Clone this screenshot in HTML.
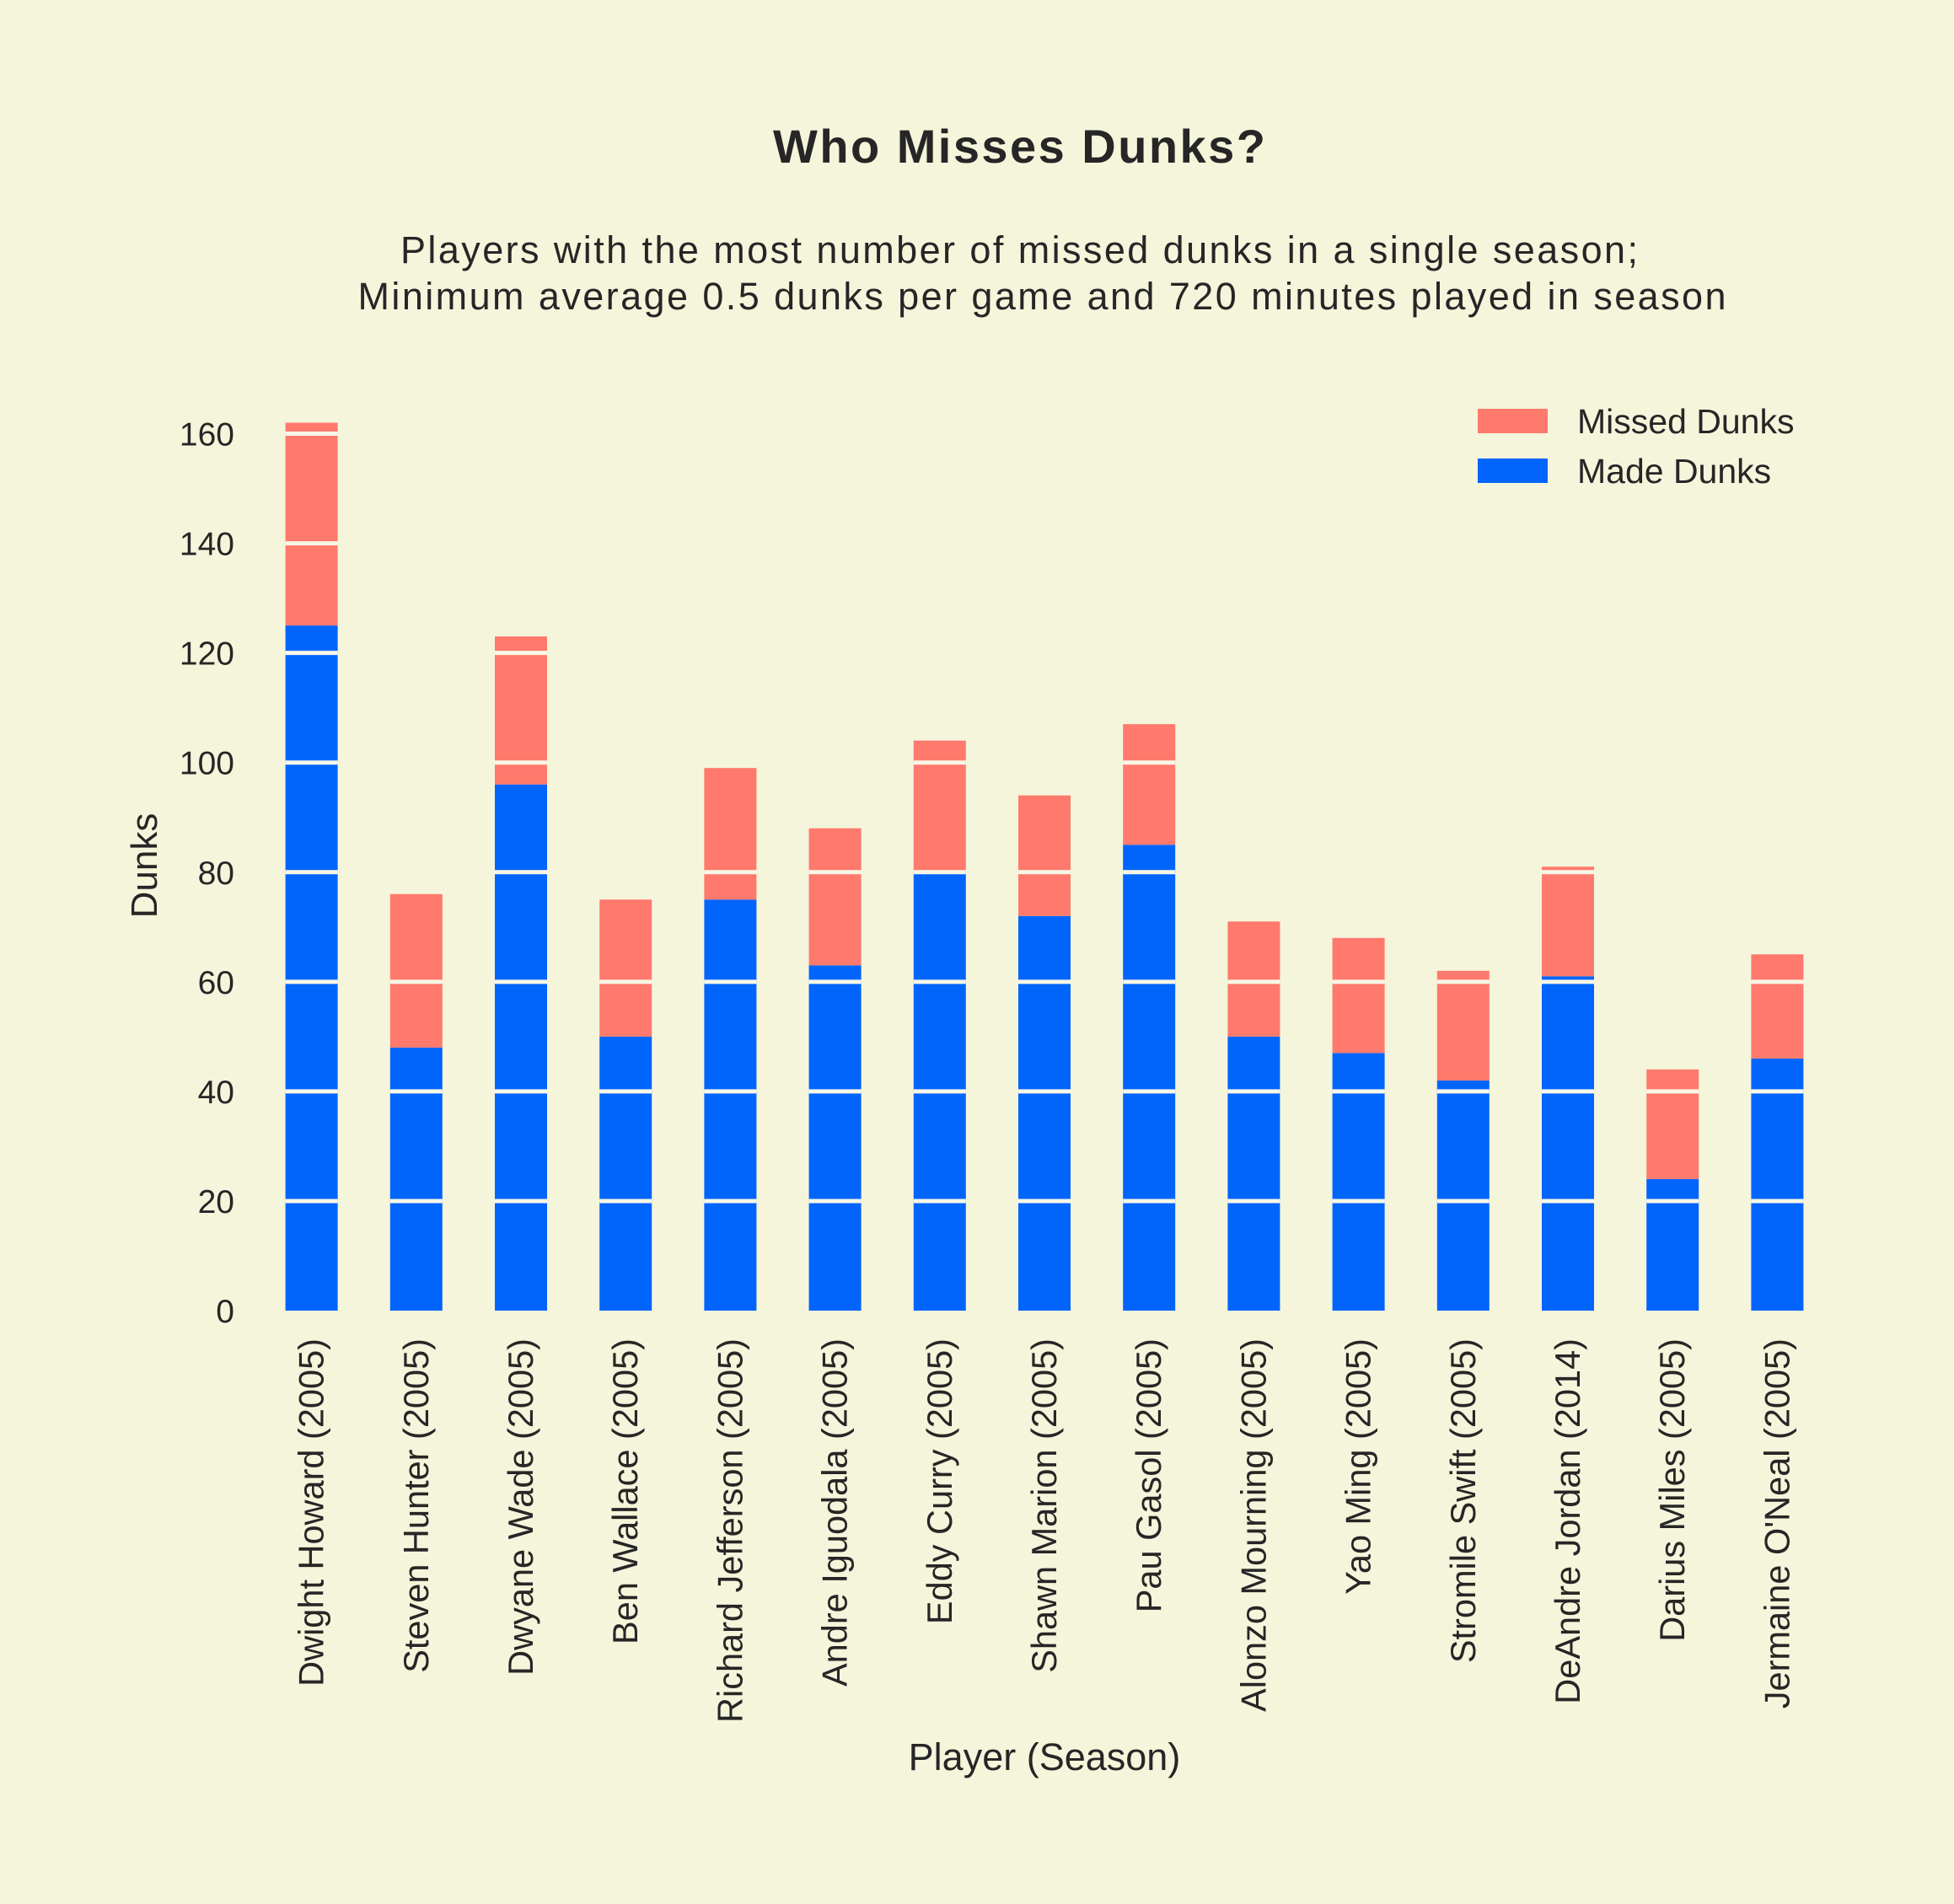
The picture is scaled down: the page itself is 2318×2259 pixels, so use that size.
<!DOCTYPE html>
<html><head><meta charset="utf-8"><style>
html,body{margin:0;padding:0;background:#f5f5dc;}
svg{display:block;font-family:"Liberation Sans",Arial,sans-serif;}
</style></head><body>
<svg id="chart" width="2318" height="2259" viewBox="0 0 2318 2259" xmlns="http://www.w3.org/2000/svg">
<rect width="2318" height="2259" fill="#f5f5dc"/>
<text x="1209" y="193" text-anchor="middle" font-size="56" font-weight="bold" fill="#262626" textLength="584">Who Misses Dunks?</text>
<text x="1209" y="312" text-anchor="middle" font-size="45" fill="#262626" textLength="1468">Players with the most number of missed dunks in a single season;</text>
<text x="1236" y="367" text-anchor="middle" font-size="45" fill="#262626" textLength="1623">Minimum average 0.5 dunks per game and 720 minutes played in season</text>
<g id="bars"></g>
<g id="grid"></g>
<g id="yticks"></g>
<g id="xticks"></g>
<text transform="translate(186,1027) rotate(-90)" text-anchor="middle" font-size="44" fill="#262626">Dunks</text>
<text x="1239" y="2100" text-anchor="middle" font-size="45" fill="#262626">Player (Season)</text>
<g>
<rect x="1753" y="485" width="83" height="29" fill="#ff796c"/>
<text x="1871" y="514" font-size="41" fill="#262626">Missed Dunks</text>
<rect x="1753" y="544" width="83" height="29" fill="#0165fc"/>
<text x="1871" y="573" font-size="41" fill="#262626">Made Dunks</text>
</g>
</svg>
<script>
const players = ["Dwight Howard (2005)","Steven Hunter (2005)","Dwyane Wade (2005)","Ben Wallace (2005)","Richard Jefferson (2005)","Andre Iguodala (2005)","Eddy Curry (2005)","Shawn Marion (2005)","Pau Gasol (2005)","Alonzo Mourning (2005)","Yao Ming (2005)","Stromile Swift (2005)","DeAndre Jordan (2014)","Darius Miles (2005)","Jermaine O'Neal (2005)"];
const madeDunks = [125,48,96,50,75,63,80,72,85,50,47,42,61,24,46];
const missedDunks = [37,28,27,25,24,25,24,22,22,21,21,20,20,20,19];
const yTicks = [0,20,40,60,80,100,120,140,160];

const NS = "http://www.w3.org/2000/svg";
const y0 = 1555, pxPerUnit = 6.503;
const x0 = 369.6, step = 124.2, barW = 62;
function yScale(v){ return y0 - v*pxPerUnit; }
function xScale(i){ return x0 + i*step; }
function mk(tag, attrs, parent){
  const el = document.createElementNS(NS, tag);
  for (const k in attrs) el.setAttribute(k, attrs[k]);
  parent.appendChild(el);
  return el;
}
const gb = document.getElementById('bars');
const gg = document.getElementById('grid');
const gy = document.getElementById('yticks');
const gx = document.getElementById('xticks');
players.forEach((p, i) => {
  const cx = xScale(i);
  const m = madeDunks[i], ms = missedDunks[i];
  const r1 = mk('rect', {x: cx - barW/2, y: yScale(m), width: barW, height: yScale(0) - yScale(m), fill: '#0165fc'}, gb);
  
  
  const r2 = mk('rect', {x: cx - barW/2, y: yScale(m + ms), width: barW, height: yScale(m) - yScale(m + ms), fill: '#ff796c'}, gb);
  
  
  yTicks.forEach(v => {
    if (v > 0 && v < m + ms) {
      const l = mk('line', {x1: cx - barW/2, x2: cx + barW/2, y1: yScale(v), y2: yScale(v), stroke: '#f8f7e6', 'stroke-width': 5}, gg);
      
      
    }
  });
  const t = mk('text', {transform: 'translate(' + (cx + 14) + ',1588) rotate(-90)', 'text-anchor': 'end', 'font-size': 41.5, fill: '#262626'}, gx);
  t.textContent = p;
  
  
});
yTicks.forEach(v => {
  const t = mk('text', {x: 278, y: yScale(v) + 14, 'text-anchor': 'end', 'font-size': 39, fill: '#262626'}, gy);
  t.textContent = v;
  
  
});
</script>
</body></html>
